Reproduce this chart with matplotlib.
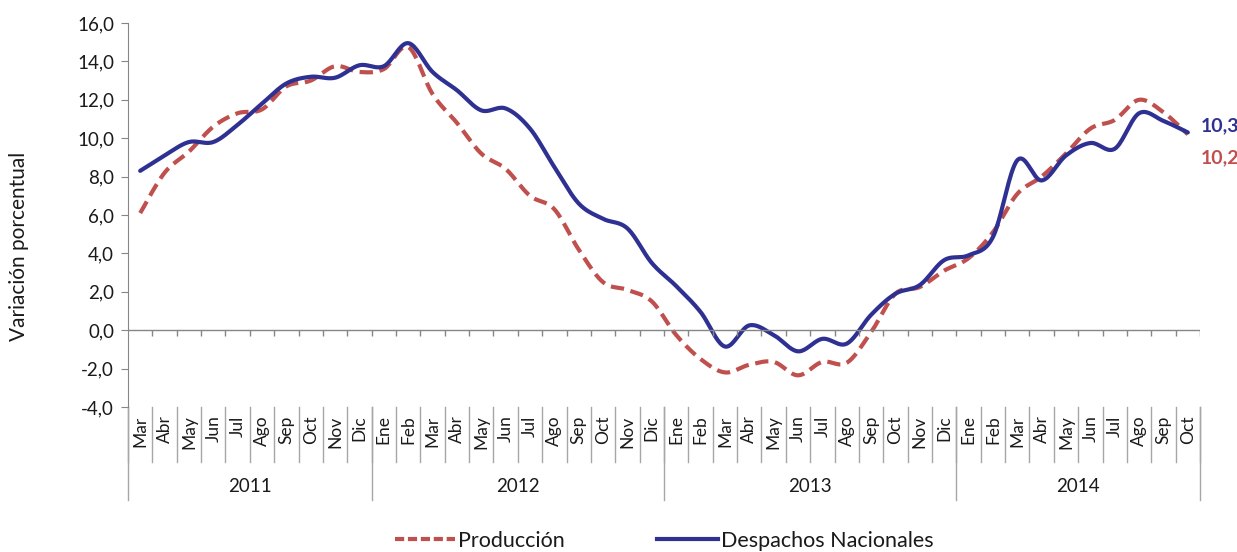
import numpy as np
import matplotlib.pyplot as plt
from matplotlib.lines import Line2D

plt.rcParams['font.family'] = ['Lato', 'DejaVu Sans']

meses = ['Mar', 'Abr', 'May', 'Jun', 'Jul', 'Ago', 'Sep', 'Oct', 'Nov', 'Dic',
         'Ene', 'Feb', 'Mar', 'Abr', 'May', 'Jun', 'Jul', 'Ago', 'Sep', 'Oct', 'Nov', 'Dic',
         'Ene', 'Feb', 'Mar', 'Abr', 'May', 'Jun', 'Jul', 'Ago', 'Sep', 'Oct', 'Nov', 'Dic',
         'Ene', 'Feb', 'Mar', 'Abr', 'May', 'Jun', 'Jul', 'Ago', 'Sep', 'Oct']
anios = ['2011', '2012', '2013', '2014']
meses_por_anio = [10, 12, 12, 10]

produccion = [6.1, 8.2, 9.3, 10.6, 11.3, 11.5, 12.7, 13.0, 13.75, 13.45,
              13.6, 14.75, 12.3, 10.8, 9.2, 8.4, 7.0, 6.3, 4.2, 2.5, 2.1, 1.5,
              -0.25, -1.5, -2.2, -1.8, -1.65, -2.35, -1.65, -1.7, -0.1, 1.9, 2.25, 3.1,
              3.75, 5.1, 7.1, 8.0, 9.2, 10.5, 10.95, 12.0, 11.35, 10.2]
despachos = [8.3, 9.1, 9.8, 9.8, 10.7, 11.8, 12.85, 13.2, 13.15, 13.8,
             13.75, 14.95, 13.45, 12.5, 11.45, 11.55, 10.5, 8.5, 6.6, 5.8, 5.3, 3.5,
             2.3, 0.95, -0.85, 0.25, -0.25, -1.1, -0.45, -0.7, 0.8, 1.9, 2.35, 3.65,
             3.9, 4.85, 8.85, 7.8, 9.1, 9.75, 9.45, 11.3, 10.9, 10.3]


def suavizar(y, n=20):
    # curva tipo Excel: Bezier con puntos de control Catmull-Rom
    y = np.asarray(y, float)
    x = np.arange(len(y), dtype=float)
    xs, ys = [], []
    t = np.linspace(0, 1, n, endpoint=False)
    for i in range(len(y) - 1):
        i0, i3 = max(i - 1, 0), min(i + 2, len(y) - 1)
        p0 = np.array([x[i], y[i]])
        p3 = np.array([x[i + 1], y[i + 1]])
        c1 = p0 + (np.array([x[i + 1], y[i + 1]]) - np.array([x[i0], y[i0]])) / 6
        c2 = p3 - (np.array([x[i3], y[i3]]) - np.array([x[i], y[i]])) / 6
        b = ((1 - t) ** 3)[:, None] * p0 + (3 * (1 - t) ** 2 * t)[:, None] * c1 \
            + (3 * (1 - t) * t ** 2)[:, None] * c2 + (t ** 3)[:, None] * p3
        xs.extend(b[:, 0])
        ys.extend(b[:, 1])
    xs.append(x[-1])
    ys.append(y[-1])
    return np.array(xs), np.array(ys)


rojo = '#C0504D'
azul = '#2E3192'
gris = '#868686'
texto = '#1A1A1A'

fig = plt.figure(figsize=(12.37, 5.52), dpi=100)
ax = fig.add_axes([128 / 1237, 1 - 407 / 552, 1072 / 1237, 384 / 552])

n = len(meses)
xp, yp = suavizar(produccion)
xd, yd = suavizar(despachos)
ax.plot(xp, yp, color=rojo, lw=3, dashes=(3.2, 1.6), dash_capstyle='butt')
ax.plot(xd, yd, color=azul, lw=3, solid_capstyle='round')

ax.set_xlim(-0.5, n - 0.5)
ax.set_ylim(-4, 16)
ax.set_yticks(np.arange(-4, 17, 2))
ax.set_yticklabels([f'{v:.1f}'.replace('.', ',') for v in np.arange(-4, 17, 2)], fontsize=13.5, color=texto)
ax.tick_params(axis='y', direction='out', length=5, color=gris, pad=5)
ax.set_xticks([])
for s in ['top', 'right', 'bottom']:
    ax.spines[s].set_visible(False)
ax.spines['left'].set_color(gris)
ax.set_ylabel('Variación porcentual', fontsize=15, color=texto)
ax.yaxis.set_label_coords(-0.092, 0.417)

# eje horizontal en cero con marcas
ax.axhline(0, color=gris, lw=1)
ax.vlines(np.arange(n) + 0.5, -0.32, 0, color=gris, lw=1)

# etiquetas de categorías debajo
tr = ax.get_xaxis_transform()
for i, m in enumerate(meses):
    ax.text(i, -0.022, m, rotation=90, ha='center', va='top', fontsize=12.5,
            color=texto, transform=tr)
for b in np.arange(n + 1) - 0.5:
    ax.plot([b, b], [0, -0.143], color='#A6A6A6', lw=1, transform=tr, clip_on=False)
inicio = -0.5
for a, k in zip(anios, meses_por_anio):
    ax.plot([inicio, inicio], [0, -0.242], color='#A6A6A6', lw=1, transform=tr, clip_on=False)
    ax.text(inicio + k / 2, -0.208, a, ha='center', va='center', fontsize=13.5,
            color=texto, transform=tr)
    inicio += k
ax.plot([inicio, inicio], [0, -0.242], color='#A6A6A6', lw=1, transform=tr, clip_on=False)

# valores finales
ax.annotate(f'{despachos[-1]:.1f}'.replace('.', ','), (n - 1, despachos[-1]), xytext=(9, 5),
            textcoords='offset points', color=azul, fontsize=14, fontweight='bold', va='center')
ax.annotate(f'{produccion[-1]:.1f}'.replace('.', ','), (n - 1, produccion[-1]), xytext=(9, -17),
            textcoords='offset points', color=rojo, fontsize=14, fontweight='bold', va='center')

handles = [Line2D([], [], color=rojo, lw=3, dashes=(2.2, 0.9)),
           Line2D([], [], color=azul, lw=3)]
fig.legend(handles, ['Producción', 'Despachos Nacionales'], loc='center',
           bbox_to_anchor=(664 / 1237, 1 - 541 / 552), ncol=2, frameon=False,
           fontsize=15.5, handlelength=2.8, handletextpad=0.15, columnspacing=4.3,
           labelcolor=texto)

fig.savefig('out.png', dpi=100)
